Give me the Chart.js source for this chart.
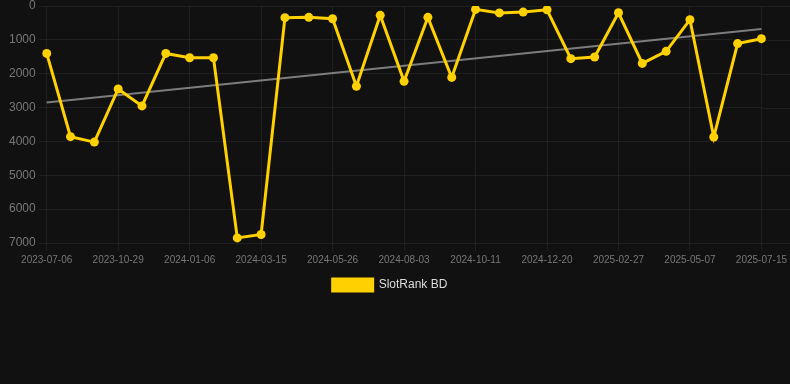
<!DOCTYPE html>
<html>
<head>
<meta charset="utf-8">
<script src="https://cdn.jsdelivr.net/npm/chart.js@4.4.1/dist/chart.umd.min.js"></script>
<style>
  html, body { margin: 0; padding: 0; background: #111111; }
  #wrap { position: relative; width: 790px; height: 301px; }
</style>
</head>
<body>
<div id="wrap"><canvas id="rankChart"></canvas></div>
<script>
// dates of each rank snapshot
const dates = [
  '2023-07-06', '2023-08-14', '2023-09-21', '2023-10-29', '2023-11-21', '2023-12-14',
  '2024-01-06', '2024-01-29', '2024-02-21', '2024-03-15', '2024-04-08', '2024-05-02',
  '2024-05-26', '2024-06-18', '2024-07-11', '2024-08-03', '2024-08-26', '2024-09-18',
  '2024-10-11', '2024-11-03', '2024-11-27', '2024-12-20', '2025-01-12', '2025-02-04',
  '2025-02-27', '2025-03-23', '2025-04-14', '2025-05-07', '2025-05-30', '2025-06-22',
  '2025-07-15'
];

// rank values (lower = better)
const ranks = [
  1400, 3860, 4020, 2450, 2950, 1400,
  1530, 1530, 6850, 6750, 345, 335,
  375, 2370, 275, 2225, 335, 2110,
  100, 205, 180, 110, 1555, 1505,
  200, 1695, 1340, 405, 3870, 1110,
  965
];

// trend line, start and end
const trendValues = [2850, 680];

const yTicks = [0, 1000, 2000, 3000, 4000, 5000, 6000, 7000];

const seriesName = 'SlotRank BD';

const gridColor = 'rgba(255,255,255,0.06)';

// horizontal grid lines run on to the right edge of the canvas
const gridToEdge = {
  id: 'gridToEdge',
  beforeDatasetsDraw(chart) {
    const { ctx, chartArea, scales } = chart;
    ctx.save();
    ctx.strokeStyle = gridColor;
    ctx.lineWidth = 1;
    scales.y.ticks.forEach((t) => {
      const y = Math.round(scales.y.getPixelForValue(t.value)) + 0.5;
      ctx.beginPath();
      ctx.moveTo(chartArea.right, y);
      ctx.lineTo(chart.width, y);
      ctx.stroke();
    });
    ctx.restore();
  }
};

const ctx = document.getElementById('rankChart').getContext('2d');
new Chart(ctx, {
  type: 'line',
  data: {
    labels: dates,
    datasets: [
      {
        label: seriesName,
        data: ranks,
        borderColor: '#FFD100',
        backgroundColor: '#FFD100',
        borderWidth: 3,
        pointRadius: 4.5,
        pointBackgroundColor: '#FFD100',
        pointBorderWidth: 0,
        tension: 0
      },
      {
        label: 'trend',
        data: [
          { x: dates[0], y: trendValues[0] },
          { x: dates[dates.length - 1], y: trendValues[1] }
        ],
        borderColor: 'rgba(160,160,160,0.75)',
        borderWidth: 2,
        pointRadius: 0,
        tension: 0
      }
    ]
  },
  plugins: [gridToEdge],
  options: {
    responsive: true,
    maintainAspectRatio: false,
    animation: false,
    layout: { padding: { left: 6, right: 16, top: 0, bottom: 0 } },
    plugins: {
      legend: {
        position: 'bottom',
        labels: {
          color: '#dddddd',
          boxWidth: 40,
          boxHeight: 12,
          padding: 10,
          font: { size: 12 },
          filter: (item) => item.text !== 'trend'
        }
      },
      tooltip: { enabled: false }
    },
    scales: {
      x: {
        grid: {
          color: (c) => (c.index % 3 === 0 ? gridColor : 'transparent')
        },
        border: { display: false },
        ticks: {
          autoSkip: false,
          maxRotation: 0,
          color: '#777777',
          font: { size: 10 },
          callback: function(value, index) {
            return index % 3 === 0 ? this.getLabelForValue(value) : '';
          }
        }
      },
      y: {
        reverse: true,
        min: 0,
        max: 7000,
        afterBuildTicks: (axis) => { axis.ticks = yTicks.map(v => ({ value: v })); },
        grid: { color: gridColor },
        border: { display: false },
        ticks: {
          color: '#777777',
          font: { size: 12, lineHeight: 0.5 },
          callback: (v) => String(v)
        }
      }
    }
  }
});
</script>
</body>
</html>
